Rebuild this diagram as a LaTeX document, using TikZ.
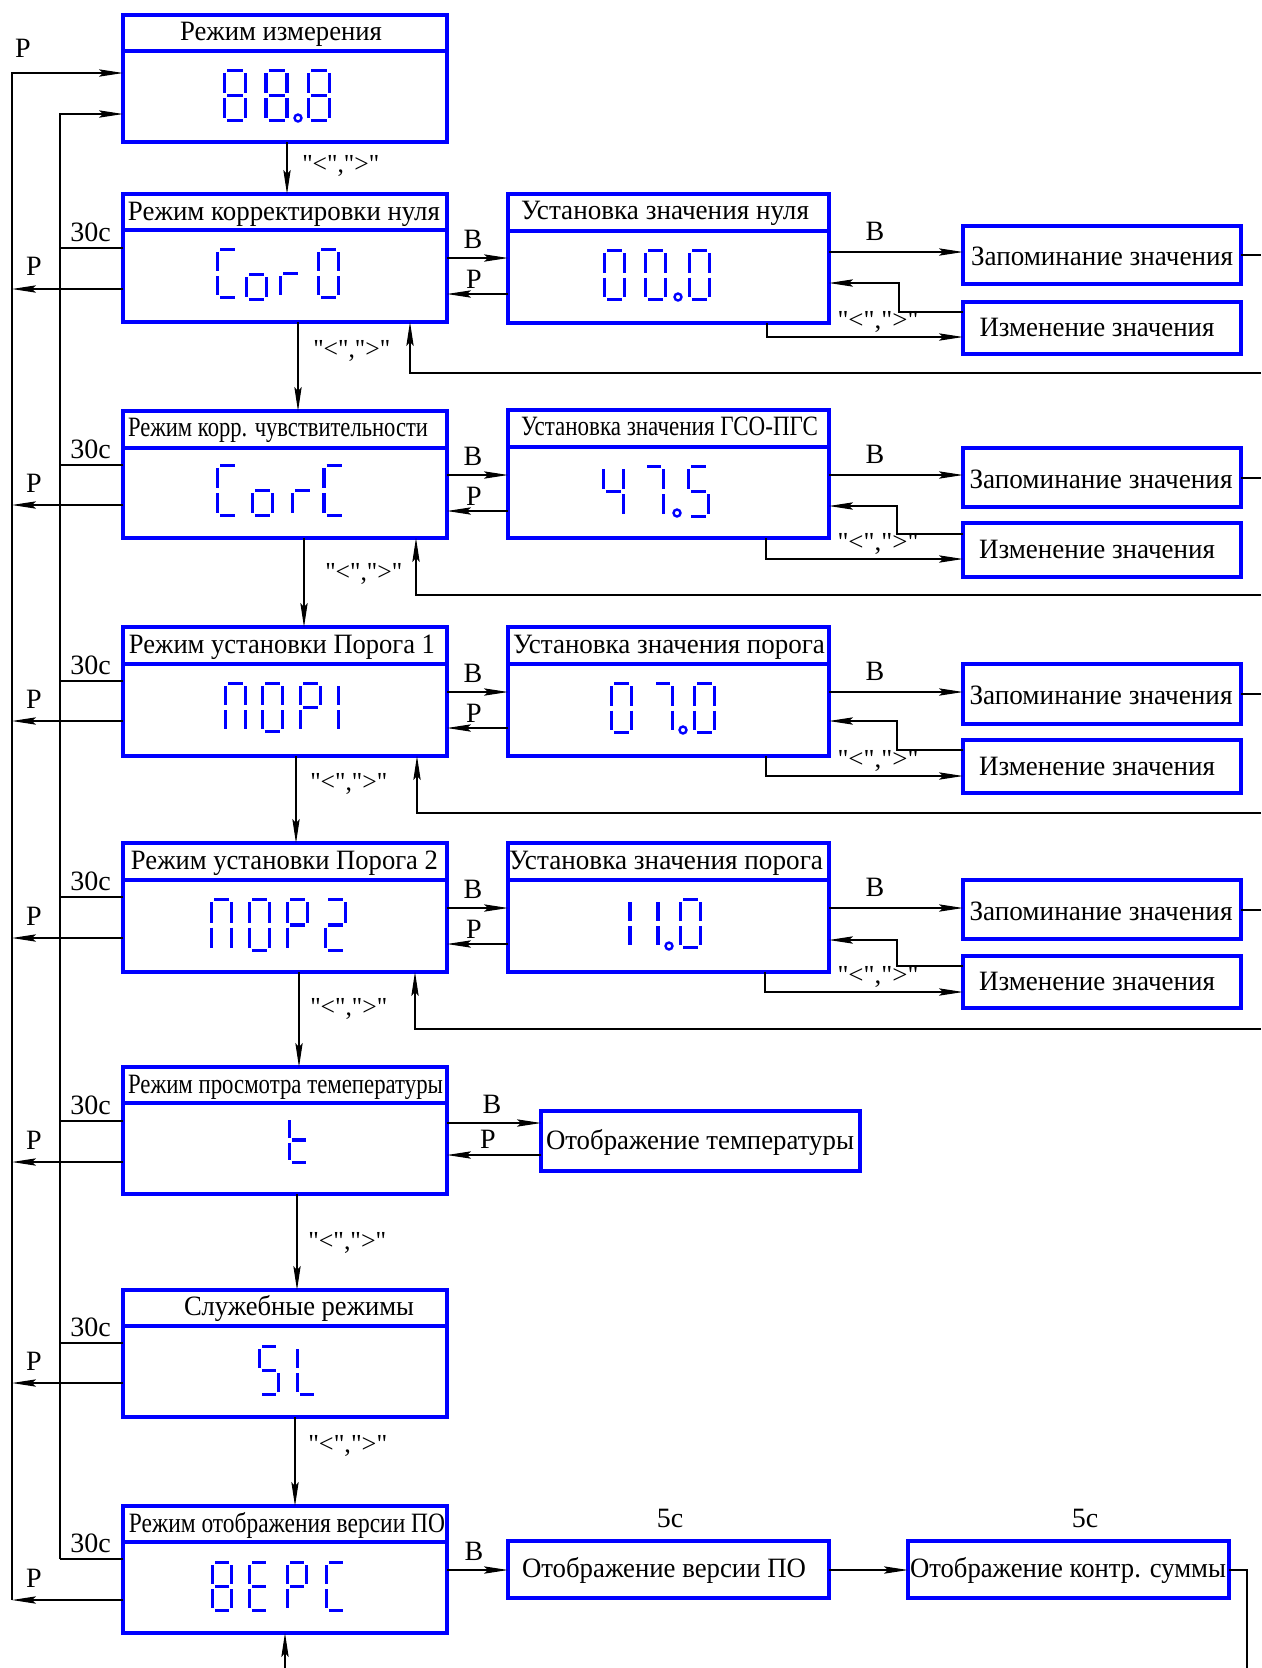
\documentclass[tikz,border=0pt]{standalone}
\usepackage{fontspec}
\setmainfont{Liberation Serif}
\usepackage{graphicx}
\usetikzlibrary{arrows.meta,fit,calc}
\newlength\px \setlength\px{0.75pt}
\newcommand\fw[2]{\resizebox{#1\px}{\height}{#2}}
\newcommand\lrq{{\fontsize{19.5}{22}\selectfont\textquotedbl<\textquotedbl,\textquotedbl>\textquotedbl}}
\newcommand\SSset[4]{\def\SSx{#1}\def\SSy{#2}\def\SSw{#3}\def\SSh{#4}}
\def\SSg{2.5}
\newcommand\SGa{\draw[segline] (\SSx+\SSg,\SSy) -- (\SSx+\SSw-\SSg,\SSy);}
\newcommand\SGb{\draw[segline] (\SSx+\SSw,\SSy+\SSg) -- (\SSx+\SSw,\SSy+\SSh/2-\SSg);}
\newcommand\SGc{\draw[segline] (\SSx+\SSw,\SSy+\SSh/2+\SSg) -- (\SSx+\SSw,\SSy+\SSh-\SSg);}
\newcommand\SGd{\draw[segline] (\SSx+\SSg,\SSy+\SSh) -- (\SSx+\SSw-\SSg,\SSy+\SSh);}
\newcommand\SGe{\draw[segline] (\SSx,\SSy+\SSh/2+\SSg) -- (\SSx,\SSy+\SSh-\SSg);}
\newcommand\SGf{\draw[segline] (\SSx,\SSy+\SSg) -- (\SSx,\SSy+\SSh/2-\SSg);}
\newcommand\SGg{\draw[segline] (\SSx+\SSg,\SSy+\SSh/2) -- (\SSx+\SSw-\SSg,\SSy+\SSh/2);}
\newcommand\sevdig[5]{\SSset{#1}{#2}{#3}{#4}\foreach \q in {#5}{\csname SG\q\endcsname}}
\begin{document}
\begin{tikzpicture}[x=0.75pt,y=-0.75pt,
  bx/.style={draw=blue, line width=2.4pt, inner sep=0pt, outer sep=0pt, rectangle},
  divl/.style={draw=blue, line width=2.4pt},
  conn/.style={draw=black, line width=0.8pt},
  arr/.style={conn, -{Stealth[length=18pt,width=5.5pt,inset=3pt]}},
  txt/.style={font=\fontsize{21}{24}\selectfont, inner sep=0pt, anchor=base},
  segline/.style={draw=blue, line width=2.6pt},
  ddot/.style={draw=blue, line width=1.8pt},
]
\fill[white] (0,0) rectangle (1261,1668);
\useasboundingbox (0,0) rectangle (1261,1668);

% ---------- main boxes ----------
\node[bx, fit={(123,15) (447,142)}] (m1) {};
\node[bx, fit={(123,194) (447,322)}] (m2) {};
\node[bx, fit={(123,411) (447,538)}] (m3) {};
\node[bx, fit={(123,627) (447,756)}] (m4) {};
\node[bx, fit={(123,843) (447,972)}] (m5) {};
\node[bx, fit={(123,1067) (447,1194)}] (m6) {};
\node[bx, fit={(123,1290) (447,1417)}] (m7) {};
\node[bx, fit={(123,1506) (447,1633)}] (m8) {};
\draw[divl] (m1.west |- 0,51) -- (m1.east |- 0,51);
\draw[divl] (m2.west |- 0,230) -- (m2.east |- 0,230);
\draw[divl] (m3.west |- 0,448) -- (m3.east |- 0,448);
\draw[divl] (m4.west |- 0,664) -- (m4.east |- 0,664);
\draw[divl] (m5.west |- 0,880) -- (m5.east |- 0,880);
\draw[divl] (m6.west |- 0,1103) -- (m6.east |- 0,1103);
\draw[divl] (m7.west |- 0,1326) -- (m7.east |- 0,1326);
\draw[divl] (m8.west |- 0,1542) -- (m8.east |- 0,1542);

\node[txt] (m1t) at (281,40) {\fw{202}{Режим измерения}};
\node[txt] (m2t) at (284,220) {\fw{312}{Режим корректировки нуля}};
\node[txt] (m3t) at (278,436) {\fw{300}{Режим корр. чувствительности}};
\node[txt] (m4t) at (282,653) {\fw{306}{Режим установки Порога 1}};
\node[txt] (m5t) at (284.5,869) {\fw{307}{Режим установки Порога 2}};
\node[txt] (m6t) at (285.5,1093) {\fw{315}{Режим просмотра темепературы}};
\node[txt] (m7t) at (299,1315) {\fw{230}{Служебные режимы}};
\node[txt] (m8t) at (287,1532) {\fw{316}{Режим отображения версии ПО}};

% ---------- right boxes ----------
\node[bx, fit={(508,194) (829,323)}] (u2) {};
\node[bx, fit={(508,410) (829,538)}] (u3) {};
\node[bx, fit={(508,627) (829,756)}] (u4) {};
\node[bx, fit={(508,843) (829,972)}] (u5) {};
\draw[divl] (u2.west |- 0,231) -- (u2.east |- 0,231);
\draw[divl] (u3.west |- 0,447) -- (u3.east |- 0,447);
\draw[divl] (u4.west |- 0,664) -- (u4.east |- 0,664);
\draw[divl] (u5.west |- 0,880) -- (u5.east |- 0,880);
\node[txt] (u2t) at (665,219) {\fw{288}{Установка значения нуля}};
\node[txt] (u3t) at (669.5,435) {\fw{297}{Установка значения ГСО-ПГС}};
\node[txt] (u4t) at (669,653) {\fw{312}{Установка значения порога}};
\node[txt] (u5t) at (666,869) {\fw{314}{Установка значения порога}};

\node[bx, fit={(963,226) (1241,284)}] (z2) {};
\node[bx, fit={(963,302) (1241,354)}] (i2) {};
\node[bx, fit={(963,448) (1241,507)}] (z3) {};
\node[bx, fit={(963,523) (1241,577)}] (i3) {};
\node[bx, fit={(963,664) (1241,724)}] (z4) {};
\node[bx, fit={(963,740) (1241,793)}] (i4) {};
\node[bx, fit={(963,880) (1241,939)}] (z5) {};
\node[bx, fit={(963,956) (1241,1008)}] (i5) {};
\node[txt] (z2t) at (1102,265) {\fw{262}{Запоминание значения}};
\node[txt] (i2t) at (1097,336) {\fw{235}{Изменение значения}};
\node[txt] (z3t) at (1101,488) {\fw{263}{Запоминание значения}};
\node[txt] (i3t) at (1097,558) {\fw{236}{Изменение значения}};
\node[txt] (z4t) at (1101,704) {\fw{263}{Запоминание значения}};
\node[txt] (i4t) at (1097,775) {\fw{236}{Изменение значения}};
\node[txt] (z5t) at (1101,920) {\fw{263}{Запоминание значения}};
\node[txt] (i5t) at (1097,990) {\fw{236}{Изменение значения}};

\node[bx, fit={(541,1111) (860,1171)}] (t6) {};
\node[txt] (t6t) at (700,1149) {\fw{308}{Отображение температуры}};
\node[bx, fit={(508,1541) (829,1598)}] (v1) {};
\node[bx, fit={(908,1541) (1229,1598)}] (v2) {};
\node[txt] (v1t) at (664,1577) {\fw{284}{Отображение версии ПО}};
\node[txt] (v2t) at (1068,1577) {\fw{316}{Отображение контр. суммы}};

% ---------- seven-segment displays ----------
\sevdig{224.5}{70.5}{21}{50}{a,b,c,d,e,f,g}
\sevdig{266}{70.5}{21}{50}{a,b,c,d,e,f,g}
\draw[ddot] (298,118) circle[radius=2.6pt];
\sevdig{308.5}{70.5}{21}{50}{a,b,c,d,e,f,g}

\sevdig{217.5}{249.5}{20}{48}{a,d,e,f}
\sevdig{246.5}{249.5}{20}{50}{c,d,e,g}
\sevdig{280.5}{249.5}{20}{48}{e,g}
\sevdig{318.5}{249.5}{20}{48}{a,b,c,d,e,f}
\sevdig{604.5}{250.5}{20}{49}{a,b,c,d,e,f}
\sevdig{645.5}{250.5}{20}{49}{a,b,c,d,e,f}
\draw[ddot] (678,297) circle[radius=2.6pt];
\sevdig{689.5}{250.5}{20}{49}{a,b,c,d,e,f}

\sevdig{217.5}{465.5}{20}{50}{a,d,e,f}
\sevdig{252.5}{465.5}{20}{50}{c,d,e,g}
\sevdig{292.5}{465.5}{20}{50}{e,g}
\sevdig{324}{465.5}{20}{50}{a,d,e,f}
\sevdig{603.5}{466.5}{20}{50}{b,c,f,g}
\sevdig{644.5}{466.5}{19}{50}{a,b,c}
\draw[ddot] (677,513) circle[radius=2.6pt];
\sevdig{688.5}{466.5}{20}{50}{a,f,g,c,d}

\sevdig{225.5}{683.5}{20}{48}{a,b,c,e,f}
\sevdig{262.5}{683.5}{20}{48}{a,b,c,d,e,f}
\sevdig{300.5}{683.5}{20}{48}{a,b,e,f,g}
\sevdig{338.3}{683.5}{20}{48}{e,f}
\sevdig{611.5}{683.5}{20}{49}{a,b,c,d,e,f}
\sevdig{653.5}{683.5}{19}{49}{a,b,c}
\draw[ddot] (683,730) circle[radius=2.6pt];
\sevdig{694.5}{683.5}{20}{49}{a,b,c,d,e,f}

\sevdig{211.5}{899.5}{20}{51}{a,b,c,e,f}
\sevdig{249.5}{899.5}{20}{51}{a,b,c,d,e,f}
\sevdig{287.5}{899.5}{20}{51}{a,b,e,f,g}
\sevdig{325.5}{899.5}{20}{51}{a,b,g,e,d}
\sevdig{630}{899.5}{20}{48}{e,f}
\sevdig{658}{899.5}{20}{48}{e,f}
\draw[ddot] (669,946) circle[radius=2.6pt];
\sevdig{680.5}{899.5}{20}{48}{a,b,c,d,e,f}

\sevdig{289.5}{1117.5}{19}{45}{f,e,g,d}

\sevdig{259.5}{1346.5}{19}{48}{a,f,g,c,d}
\sevdig{297.5}{1346.5}{19}{48}{f,e,d}

\sevdig{212.5}{1562.5}{19}{48}{a,b,c,d,e,f,g}
\sevdig{249.5}{1562.5}{19}{48}{a,d,e,f,g}
\sevdig{287.5}{1562.5}{19}{48}{a,b,e,f,g}
\sevdig{326.5}{1562.5}{19}{48}{a,d,e,f}

% ---------- left buses ----------
\coordinate (busO) at (12,1600);
\coordinate (busI) at (60,1559);
\draw[arr] (busO) |- (m1.west |- 0,73);
\draw[arr] (busI) |- (m1.west |- 0,114);
\node[txt] (pTop) at (23,57) {Р};

\foreach \m/\ty/\py in {m2/248/289, m3/465/505, m4/681/721, m5/897/938, m6/1121/1162, m7/1343/1383, m8/1559/1600}{
  \draw[conn] (\m.west |- 0,\ty) -- (busI |- 0,\ty);
  \draw[arr] (\m.west |- 0,\py) -- (busO |- 0,\py);
}
\node[txt,anchor=base east] (s2) at (111,241) {30с};
\node[txt,anchor=base east] (s3) at (111,458) {30с};
\node[txt,anchor=base east] (s4) at (111,674) {30с};
\node[txt,anchor=base east] (s5) at (111,890) {30с};
\node[txt,anchor=base east] (s6) at (111,1114) {30с};
\node[txt,anchor=base east] (s7) at (111,1336) {30с};
\node[txt,anchor=base east] (s8) at (111,1552) {30с};
\node[txt] (p2) at (34,275) {Р};
\node[txt] (p3) at (34,492) {Р};
\node[txt] (p4) at (34,708) {Р};
\node[txt] (p5) at (34,925) {Р};
\node[txt] (p6) at (34,1149) {Р};
\node[txt] (p7) at (34,1370) {Р};
\node[txt] (p8) at (34,1587) {Р};

% ---------- vertical chain ----------
\draw[arr] (287,0 |- m1.south) -- (287,0 |- m2.north);
\draw[arr] (298,0 |- m2.south) -- (298,0 |- m3.north);
\draw[arr] (304,0 |- m3.south) -- (304,0 |- m4.north);
\draw[arr] (296,0 |- m4.south) -- (296,0 |- m5.north);
\draw[arr] (299,0 |- m5.south) -- (299,0 |- m6.north);
\draw[arr] (297,0 |- m6.south) -- (297,0 |- m7.north);
\draw[arr] (295,0 |- m7.south) -- (295,0 |- m8.north);
\coordinate (bot8) at (285,1668);
\draw[arr] (bot8) -- (285,0 |- m8.south);
\node[txt,anchor=base west] (c1) at (302,172) {\fw{77}{\lrq}};
\node[txt,anchor=base west] (c2) at (313,357) {\fw{77}{\lrq}};
\node[txt,anchor=base west] (c3) at (325,580) {\fw{77}{\lrq}};
\node[txt,anchor=base west] (c4) at (310,790) {\fw{77}{\lrq}};
\node[txt,anchor=base west] (c5) at (310,1015) {\fw{77}{\lrq}};
\node[txt,anchor=base west] (c6) at (308,1249) {\fw{78}{\lrq}};
\node[txt,anchor=base west] (c7) at (308,1452) {\fw{79}{\lrq}};

% ---------- rows 2-5 ----------
\foreach \r/\B/\P/\Bz/\Zl/\Rx/\Ry/\Rt/\Dx/\Dy/\Lx/\Ly in {
  2/258/294/252/255/899/312/283/767/337/410/373,
  3/475/511/475/478/897/534/506/766/559/416/595,
  4/692/728/692/694/897/750/721/766/776/417/813,
  5/908/944/908/910/897/966/940/765/992/415/1029}{
  \draw[arr] (m\r.east |- 0,\B) -- (u\r.west |- 0,\B);
  \draw[arr] (u\r.west |- 0,\P) -- (m\r.east |- 0,\P);
  \draw[arr] (u\r.east |- 0,\Bz) -- (z\r.west |- 0,\Bz);
  \coordinate (zr\r) at (1261,\Zl);
  \draw[conn] (z\r.east |- 0,\Zl) -- (zr\r);
  \draw[arr] (i\r.west |- 0,\Ry) -| (\Rx,\Rt) -- (u\r.east |- 0,\Rt);
  \draw[arr] (\Dx,0 |- u\r.south) |- (i\r.west |- 0,\Dy);
  \coordinate (er\r) at (1261,\Ly);
  \draw[arr] (er\r) -| (\Lx,0 |- m\r.south);
  \node[txt] (lb\r) at (473,\B-10) {В};
  \node[txt] (lp\r) at (474,\P-6) {Р};
  \node[txt] (lz\r) at (875,\Bz-12) {В};
  \node[txt] (lc\r) at (878,\Dy-9) {\fw{81}{\lrq}};
}

% ---------- row 6 ----------
\draw[arr] (m6.east |- 0,1123) -- (t6.west |- 0,1123);
\draw[arr] (t6.west |- 0,1155) -- (m6.east |- 0,1155);
\node[txt] (lb6) at (492,1113) {В};
\node[txt] (lp6) at (488,1148) {Р};

% ---------- row 8 ----------
\draw[arr] (m8.east |- 0,1570) -- (v1.west |- 0,1570);
\draw[arr] (v1.east |- 0,1570) -- (v2.west |- 0,1570);
\coordinate (vr) at (1247,1668);
\draw[conn] (v2.east |- 0,1570) -| (vr);
\node[txt] (lb8) at (474,1560) {В};
\node[txt] (f1) at (670,1527) {5с};
\node[txt] (f2) at (1085,1527) {5с};
\end{tikzpicture}
\end{document}
